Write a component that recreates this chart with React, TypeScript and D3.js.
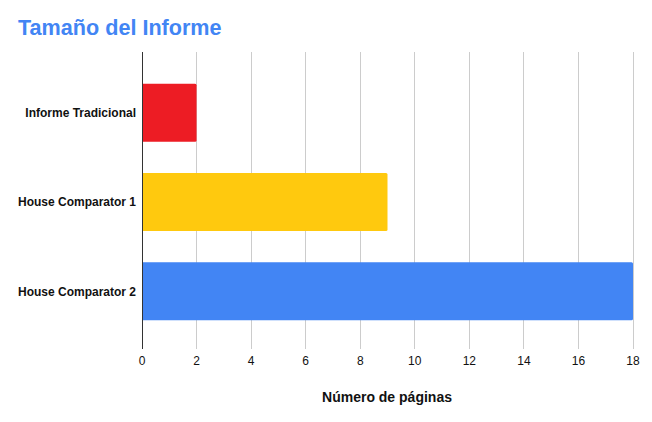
import * as d3 from "d3";
import React, { useEffect } from "react";

const categories = ["Informe Tradicional", "House Comparator 1", "House Comparator 2"];
const pages = [2, 9, 18];
const barColors = ["#ed1c24", "#ffc90e", "#4285f4"];
const xTicks = [0, 2, 4, 6, 8, 10, 12, 14, 16, 18];

const width = 652;
const height = 422;
const plotTop = 52;
const plotBottom = 349;

export default function App() {
  useEffect(() => {
    document.body.style.margin = "0";
  }, []);

  const x = d3.scaleLinear().domain([0, 18]).range([142, 633]);
  const y = d3
    .scaleBand<string>()
    .domain(categories)
    .range([68, 336])
    .paddingInner(0.35)
    .paddingOuter(0.175);

  return (
    <svg width={width} height={height} style={{ display: "block", fontFamily: "'Liberation Sans', Arial, sans-serif" }}>
      <rect width={width} height={height} fill="#fff" />
      <text x={18} y={35} fill="#4285f4" fontSize={21.6} fontWeight="bold">
        Tamaño del Informe
      </text>
      <g>
        {xTicks.map((t) => (
          <line
            key={t}
            x1={x(t)}
            x2={x(t)}
            y1={plotTop}
            y2={plotBottom}
            stroke={t === 0 ? "#333" : "#ccc"}
            strokeWidth={1}
            shapeRendering="crispEdges"
          />
        ))}
      </g>
      <g>
        {categories.map((c, i) => (
          <path
            key={c}
            d={`M${x(0)},${y(c)!} H${x(pages[i]) - 1.5} Q${x(pages[i])},${y(c)!} ${x(pages[i])},${y(c)! + 1.5} V${
              y(c)! + y.bandwidth() - 1.5
            } Q${x(pages[i])},${y(c)! + y.bandwidth()} ${x(pages[i]) - 1.5},${y(c)! + y.bandwidth()} H${x(0)} Z`}
            fill={barColors[i]}
          />
        ))}
        <line x1={x(0)} x2={x(0)} y1={plotTop} y2={plotBottom} stroke="#333" shapeRendering="crispEdges" />
      </g>
      <g fontSize={12} fontWeight="bold" fill="#111" textAnchor="end">
        {categories.map((c) => (
          <text key={c} x={136} y={y(c)! + y.bandwidth() / 2} dy="0.35em">
            {c}
          </text>
        ))}
      </g>
      <g fontSize={12} fill="#111" textAnchor="middle">
        {xTicks.map((t) => (
          <text key={t} x={x(t)} y={365}>
            {t}
          </text>
        ))}
      </g>
      <text x={387} y={402} textAnchor="middle" fontSize={14} fontWeight="bold" fill="#111">
        Número de páginas
      </text>
    </svg>
  );
}
